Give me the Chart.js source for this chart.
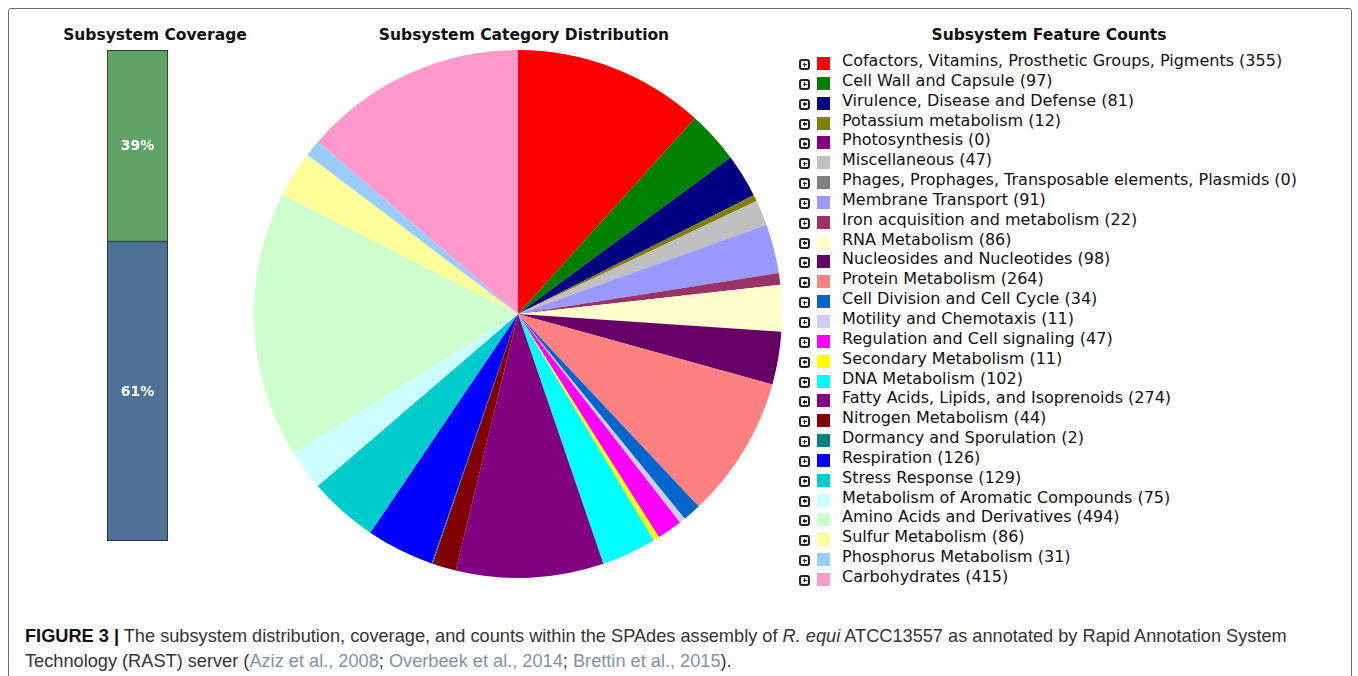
<!DOCTYPE html>
<html>
<head>
<meta charset="utf-8">
<title>Subsystem overview</title>
<script src="https://cdn.jsdelivr.net/npm/chart.js@4.4.1/dist/chart.umd.min.js"></script>
<style>
    html, body { margin: 0; padding: 0; background: #fff; }
    body { width: 1358px; height: 676px; position: relative; overflow: hidden; font-family: "DejaVu Sans", Verdana, sans-serif; }
    #frame { position: absolute; left: 8px; top: 8px; width: 1344px; height: 720px; border: 1px solid #6a6a6a; border-radius: 3px; box-sizing: border-box; }
    .title { position: absolute; top: 26px; font-weight: bold; font-size: 15.5px; color: #111; white-space: nowrap; transform: translateX(-50%); }
    #cov-wrap { position: absolute; left: 107px; top: 50px; width: 61px; height: 491px; }
    #pie-wrap { position: absolute; left: 254px; top: 50px; width: 528px; height: 528px; }
    #legend { position: absolute; left: 799px; top: 51px; font-size: 16px; color: #111; }
    .row { height: 19.85px; position: relative; white-space: nowrap; }
    .plus { position: absolute; left: 0; top: 8px; width: 11px; height: 11px; border: 2px solid #222; border-radius: 3px; box-sizing: border-box; }
    .plus::before { content: ""; position: absolute; left: 1.5px; top: 2.75px; width: 4px; height: 1.5px; background: #222; }
    .plus::after { content: ""; position: absolute; left: 2.75px; top: 1.5px; width: 1.5px; height: 4px; background: #222; }
    .swatch { position: absolute; left: 18px; top: 6px; width: 13px; height: 13px; }
    .label { position: absolute; left: 43px; top: 0; line-height: 19px; }
    #caption { position: absolute; left: 25px; top: 624px; font-family: "Liberation Sans", Arial, sans-serif; font-size: 18.2px; line-height: 25px; color: #333; white-space: nowrap; }
    #caption b { color: #111; }
    .cite { color: #8192a8; }
</style>
</head>
<body>
<div id="frame"></div>
<div class="title" style="left:155px">Subsystem Coverage</div>
<div class="title" style="left:524px">Subsystem Category Distribution</div>
<div class="title" style="left:1049px">Subsystem Feature Counts</div>

<div id="cov-wrap"><canvas id="coverage"></canvas></div>
<div id="pie-wrap"><canvas id="pie"></canvas></div>
<div id="legend"></div>

<div id="caption">
    <div><b>FIGURE 3 |</b> The subsystem distribution, coverage, and counts within the SPAdes assembly of <i>R. equi</i> ATCC13557 as annotated by Rapid Annotation System</div>
    <div>Technology (RAST) server (<span class="cite">Aziz et al., 2008</span>; <span class="cite">Overbeek et al., 2014</span>; <span class="cite">Brettin et al., 2015</span>).</div>
</div>

<script>
// Subsystem categories, in the order the pie and the legend use
const categories = [
    'Cofactors, Vitamins, Prosthetic Groups, Pigments',
    'Cell Wall and Capsule',
    'Virulence, Disease and Defense',
    'Potassium metabolism',
    'Photosynthesis',
    'Miscellaneous',
    'Phages, Prophages, Transposable elements, Plasmids',
    'Membrane Transport',
    'Iron acquisition and metabolism',
    'RNA Metabolism',
    'Nucleosides and Nucleotides',
    'Protein Metabolism',
    'Cell Division and Cell Cycle',
    'Motility and Chemotaxis',
    'Regulation and Cell signaling',
    'Secondary Metabolism',
    'DNA Metabolism',
    'Fatty Acids, Lipids, and Isoprenoids',
    'Nitrogen Metabolism',
    'Dormancy and Sporulation',
    'Respiration',
    'Stress Response',
    'Metabolism of Aromatic Compounds',
    'Amino Acids and Derivatives',
    'Sulfur Metabolism',
    'Phosphorus Metabolism',
    'Carbohydrates'
];

const featureCounts = [355, 97, 81, 12, 0, 47, 0, 91, 22, 86, 98, 264, 34, 11, 47, 11, 102, 274, 44, 2, 126, 129, 75, 494, 86, 31, 415];

const sliceColors = [
    '#FF0000', '#008000', '#000080', '#808000', '#800080', '#C0C0C0', '#808080',
    '#9999FF', '#993366', '#FFFFCC', '#660066', '#FF8080', '#0066CC', '#CCCCFF',
    '#FF00FF', '#FFFF00', '#00FFFF', '#800080', '#800000', '#008080', '#0000FF',
    '#00CCCC', '#CCFFFF', '#CCFFCC', '#FFFF99', '#99CCFF', '#FF99CC'
];

// Coverage bar: bottom segment first (stacked upwards)
const coverageParts = ['Not in subsystems', 'In subsystems'];
const coveragePercent = [61, 39];
const coverageColors = ['#4E7198', '#5FA464'];

// Draws the percentage text in the middle of each stacked segment
const segmentLabels = {
    id: 'segmentLabels',
    afterDatasetsDraw(chart) {
        const ctx = chart.ctx;
        ctx.save();
        ctx.fillStyle = '#ffffff';
        ctx.font = 'bold 14px "DejaVu Sans", Verdana, sans-serif';
        ctx.textAlign = 'center';
        ctx.textBaseline = 'middle';
        chart.data.datasets.forEach((ds, i) => {
            chart.getDatasetMeta(i).data.forEach((bar, j) => {
                ctx.fillText(ds.data[j] + '%', bar.x, (bar.y + bar.base) / 2 + 1);
            });
        });
        ctx.restore();
    }
};

new Chart(document.getElementById('coverage'), {
    type: 'bar',
    data: {
        labels: ['Coverage'],
        datasets: coverageParts.map((name, i) => ({
            label: name,
            data: [coveragePercent[i]],
            backgroundColor: coverageColors[i],
            borderColor: '#1a1a1a',
            borderWidth: 1,
            borderSkipped: false,
            barPercentage: 1,
            categoryPercentage: 1
        }))
    },
    options: {
        responsive: true,
        maintainAspectRatio: false,
        animation: false,
        events: [],
        layout: { padding: 0 },
        plugins: { legend: { display: false }, tooltip: { enabled: false } },
        scales: {
            x: { stacked: true, display: false },
            y: { stacked: true, display: false, min: 0, max: 100 }
        }
    },
    plugins: [segmentLabels]
});

new Chart(document.getElementById('pie'), {
    type: 'pie',
    data: {
        labels: categories,
        datasets: [{
            data: featureCounts,
            backgroundColor: sliceColors,
            borderWidth: 0,
            hoverOffset: 0,
            offset: 0
        }]
    },
    options: {
        responsive: true,
        maintainAspectRatio: false,
        animation: false,
        events: [],
        layout: { padding: 0 },
        plugins: { legend: { display: false }, tooltip: { enabled: false } }
    }
});

// Legend list built from the same arrays
const legend = document.getElementById('legend');
categories.forEach((name, i) => {
    const row = document.createElement('div');
    row.className = 'row';
    row.innerHTML = `
        <span class="plus"></span>
        <span class="swatch" style="background:${sliceColors[i]}"></span>
        <span class="label">${name} (${featureCounts[i]})</span>
    `;
    legend.appendChild(row);
});
</script>
</body>
</html>
